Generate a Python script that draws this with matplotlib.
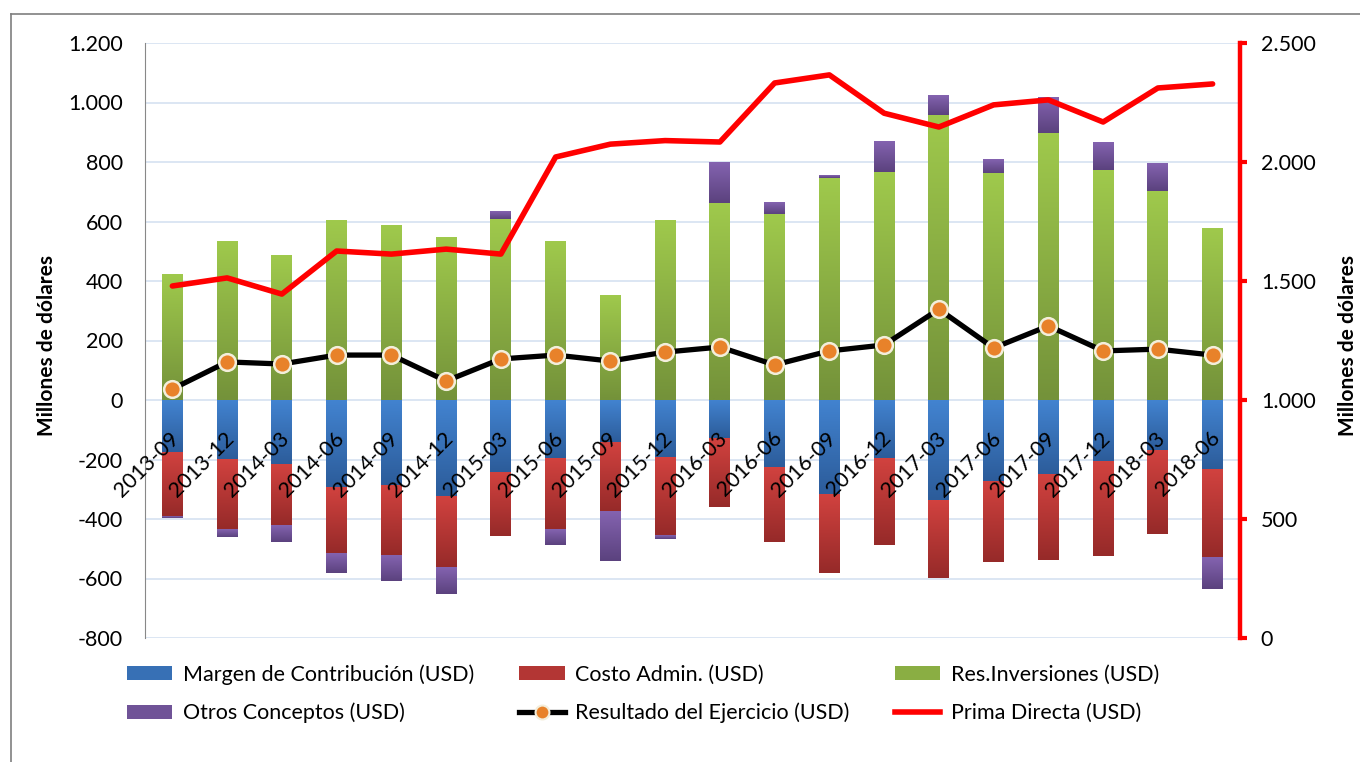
import numpy as np
import matplotlib
matplotlib.use("Agg")
import matplotlib.pyplot as plt
import matplotlib.transforms as mtransforms
from matplotlib.colors import to_rgb
from matplotlib.lines import Line2D
from matplotlib.patches import Patch
from matplotlib.ticker import FuncFormatter, MultipleLocator

plt.rcParams["font.family"] = ["Lato", "DejaVu Sans"]

# Datos en millones de USD
periodos = ["2013-09", "2013-12", "2014-03", "2014-06", "2014-09", "2014-12",
            "2015-03", "2015-06", "2015-09", "2015-12", "2016-03", "2016-06",
            "2016-09", "2016-12", "2017-03", "2017-06", "2017-09", "2017-12",
            "2018-03", "2018-06"]
margen = [-178, -202, -218, -295, -286, -322, -241, -198, -144, -195,
          -128, -228, -316, -195, -336, -272, -252, -205, -171, -235]
costo = [-212, -232, -202, -219, -235, -242, -215, -236, -232, -259,
         -231, -249, -265, -292, -262, -272, -286, -319, -279, -293]
inversiones = [423, 534, 487, 605, 588, 545, 608, 534, 350, 602,
               662, 625, 746, 766, 958, 763, 897, 773, 702, 575]
otros = [-6, -26, -57, -67, -87, -88, 24, -53, -165, -13,
         135, 37, 7, 101, 67, 47, 121, 91, 91, -107]
resultado = [37, 128, 121, 151, 151, 64, 138, 151, 131, 161,
             178, 118, 165, 185, 305, 175, 249, 165, 171, 151]
prima = [1479, 1513, 1445, 1626, 1613, 1634, 1613, 2021, 2075, 2090,
         2084, 2332, 2366, 2205, 2147, 2240, 2261, 2168, 2311, 2328]


def fmt_miles(v, pos):
    return f"{v:,.0f}".replace(",", ".")


def pintar_gradiente(ax, barras, c_arriba, c_abajo):
    # relleno degradado como en Excel: claro arriba, oscuro abajo
    arriba = np.array(to_rgb(c_arriba))
    abajo = np.array(to_rgb(c_abajo))
    t = np.linspace(0, 1, 64)[:, None, None]
    img = arriba * (1 - t) + abajo * t
    for b in barras:
        h = b.get_height()
        if h == 0:
            continue
        x0, y0, w = b.get_x(), b.get_y(), b.get_width()
        ax.imshow(img, extent=(x0, x0 + w, min(y0, y0 + h), max(y0, y0 + h)),
                  origin="upper", aspect="auto", interpolation="bilinear", zorder=2)
        b.set_visible(False)


fig = plt.figure(figsize=(13.6, 7.62), dpi=100)
ax = fig.add_axes([145 / 1360, 1 - 638 / 762, 1095 / 1360, 595 / 762])
x = np.arange(len(periodos))

series = [
    ("Margen de Contribución (USD)", margen, "#4283D0", "#2C5C9A"),
    ("Costo Admin. (USD)", costo, "#D1423F", "#962A29"),
    ("Res.Inversiones (USD)", inversiones, "#9FC94C", "#74923A"),
    ("Otros Conceptos (USD)", otros, "#8463B0", "#5B427E"),
]

pos = np.zeros(len(x))
neg = np.zeros(len(x))
handles = {}
for nombre, valores, c1, c2 in series:
    v = np.array(valores, dtype=float)
    base = np.where(v >= 0, pos, neg)
    barras = ax.bar(x, v, bottom=base, width=0.38, color=c1, zorder=2)
    pintar_gradiente(ax, barras, c1, c2)
    pos += np.where(v >= 0, v, 0)
    neg += np.where(v < 0, v, 0)
    handles[nombre] = Patch(facecolor=(np.array(to_rgb(c1)) + np.array(to_rgb(c2))) / 2)

ax.plot(x, resultado, color="black", lw=3.8, marker="o", ms=12,
        mfc="#E8822A", mec="#F3EEDB", mew=1.8, zorder=4)

ax.set_xlim(-0.5, len(x) - 0.5)
ax.set_ylim(-800, 1200)
ax.yaxis.set_major_locator(MultipleLocator(200))
ax.yaxis.set_major_formatter(FuncFormatter(fmt_miles))
ax.grid(axis="y", color="#D6E2F1", lw=1.2, zorder=0)
ax.set_axisbelow(True)
for lado in ["top", "right", "bottom"]:
    ax.spines[lado].set_visible(False)
ax.spines["left"].set_color("#888888")
ax.tick_params(axis="y", length=0, labelsize=15.5, pad=16)
ax.set_xticks([])

# etiquetas de periodo sobre las barras, junto al eje cero
desplaza = mtransforms.ScaledTranslation(-3 / 100, -28 / 100, fig.dpi_scale_trans)
for xi, per in zip(x, periodos):
    ax.text(xi, 0, per, rotation=45, ha="right", va="top", rotation_mode="anchor",
            fontsize=15.5, zorder=6, transform=ax.transData + desplaza)

ax2 = ax.twinx()
ax2.plot(x, prima, color="#FF0000", lw=4, solid_capstyle="round", zorder=3)
ax2.set_ylim(0, 2500)
ax2.yaxis.set_major_locator(MultipleLocator(500))
ax2.yaxis.set_major_formatter(FuncFormatter(fmt_miles))
for lado in ["top", "left", "bottom"]:
    ax2.spines[lado].set_visible(False)
ax2.spines["right"].set_color("#FF0000")
ax2.spines["right"].set_linewidth(3.2)
ax2.tick_params(axis="y", color="#FF0000", width=3, length=5, direction="out",
                labelsize=15.5, labelcolor="black", pad=10)

fig.text(47 / 1360, 1 - 345 / 762, "Millones de dólares", rotation=90,
         ha="center", va="center", fontsize=15, fontweight="bold")
fig.text(1348 / 1360, 1 - 345 / 762, "Millones de dólares", rotation=90,
         ha="center", va="center", fontsize=15, fontweight="bold")

handles["Resultado del Ejercicio (USD)"] = Line2D([], [], color="black", lw=3.8, marker="o", ms=10,
                                                  mfc="#E8822A", mec="#F3EEDB", mew=1.5)
handles["Prima Directa (USD)"] = Line2D([], [], color="#FF0000", lw=4)
orden = ["Margen de Contribución (USD)", "Otros Conceptos (USD)",
         "Costo Admin. (USD)", "Resultado del Ejercicio (USD)",
         "Res.Inversiones (USD)", "Prima Directa (USD)"]
fig.legend([handles[k] for k in orden], orden, ncol=3, frameon=False,
           loc="upper left", bbox_to_anchor=(127 / 1360, 1 - 664 / 762),
           fontsize=15.5, handlelength=2.1, handleheight=0.6, handletextpad=0.5,
           columnspacing=2.1, labelspacing=0.85, borderpad=0, borderaxespad=0)

fig.add_artist(Line2D([11 / 1360, 11 / 1360], [0, 1 - 14 / 762], color="#7F7F7F", lw=1.2))
fig.add_artist(Line2D([11 / 1360, 1], [1 - 14 / 762, 1 - 14 / 762], color="#7F7F7F", lw=1.2))

fig.savefig("out.png", dpi=100)
